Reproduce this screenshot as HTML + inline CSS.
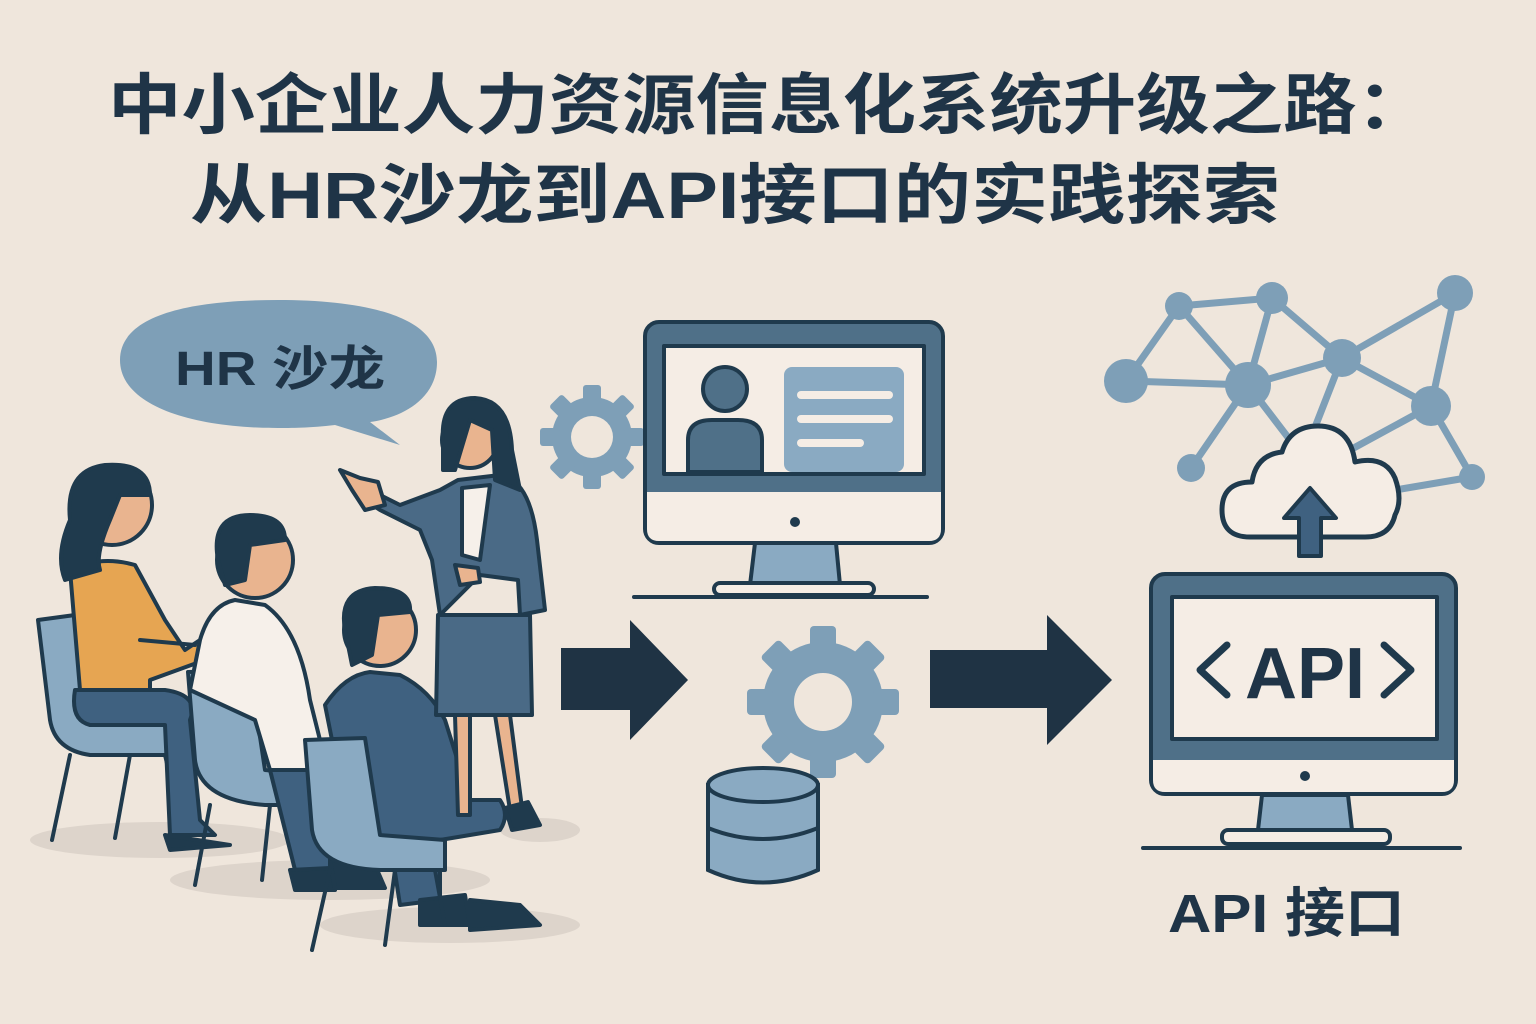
<!DOCTYPE html>
<html><head><meta charset="utf-8"><style>
html,body{margin:0;padding:0;background:#efe6dc;}
svg{display:block}
text{font-family:"Liberation Sans","Noto Sans CJK SC",sans-serif;font-weight:bold;fill:#1f3447}
</style></head><body>
<svg width="1536" height="1024" viewBox="0 0 1536 1024" xmlns="http://www.w3.org/2000/svg">
<rect width="1536" height="1024" fill="#efe6dc"/>
<text x="108" y="128" font-size="66" textLength="1322" lengthAdjust="spacingAndGlyphs">中小企业人力资源信息化系统升级之路：</text>
<text x="190" y="218" font-size="66" textLength="1090" lengthAdjust="spacingAndGlyphs">从HR沙龙到API接口的实践探索</text>

<!-- speech bubble -->
<path d="M120,360 C120,315 190,300 278,300 C370,300 437,318 437,362 C437,400 400,418 370,422 L400,445 L335,425 C310,428 290,428 278,428 C190,428 120,405 120,360Z" fill="#7e9fb7"/>
<text x="175" y="385" font-size="48" textLength="210" lengthAdjust="spacingAndGlyphs">HR 沙龙</text>

<!-- shadows -->
<ellipse cx="160" cy="840" rx="130" ry="18" fill="#ddd4cb"/>
<ellipse cx="330" cy="880" rx="160" ry="20" fill="#ddd4cb"/>
<ellipse cx="450" cy="925" rx="130" ry="18" fill="#ddd4cb"/>
<ellipse cx="540" cy="830" rx="40" ry="12" fill="#ddd4cb"/>

<g stroke="#1f3a4d" stroke-width="4" stroke-linejoin="round" stroke-linecap="round">
<!-- chair 1 -->
<path d="M38,620 L75,615 L90,720 L170,725 L170,755 L90,755 Q55,750 50,720Z" fill="#8aaac2"/>
<line x1="70" y1="755" x2="52" y2="840"/><line x1="130" y1="755" x2="115" y2="838"/><line x1="165" y1="755" x2="178" y2="810"/>
<!-- woman 1 -->
<path d="M70,570 Q100,555 135,565 L165,620 L185,650 L200,640 L205,660 L150,680 L150,690 L80,690 Z" fill="#e6a552"/>
<path d="M140,640 L195,645" />
<path d="M75,690 L165,690 Q200,695 190,720 L200,820 L215,835 L170,835 L165,725 L90,725 Q70,720 75,690Z" fill="#3f6180"/>
<path d="M165,835 L230,845 L170,850Z" fill="#1f3a4d"/>
<circle cx="112" cy="505" r="40" fill="#e9b48f"/>
<path d="M70,520 Q65,470 105,465 Q150,462 150,495 L120,495 L110,520 Q95,555 100,570 L65,580 Q55,555 70,520Z" fill="#1f3a4d"/>
<!-- chair 2 -->
<path d="M188,672 L250,670 L265,770 L320,775 L320,805 L265,805 Q200,800 195,760Z" fill="#8aaac2"/>
<line x1="210" y1="805" x2="195" y2="885"/><line x1="270" y1="805" x2="262" y2="880"/><line x1="305" y1="805" x2="318" y2="860"/>
<!-- man 1 -->
<path d="M200,640 Q210,605 235,600 L265,605 Q300,630 310,700 L320,740 L320,770 L270,770 L255,720 L190,690Z" fill="#f6f0ea"/>
<path d="M270,770 L330,770 L330,870 L295,870 Z" fill="#3f6180"/>
<path d="M290,870 L330,868 L335,890 L295,890Z" fill="#1f3a4d"/>
<path d="M330,860 L375,865 L385,888 L335,888Z" fill="#1f3a4d"/>
<circle cx="255" cy="560" r="38" fill="#e9b48f"/>
<path d="M218,560 Q210,515 250,515 Q285,515 285,540 L250,545 L245,580 L225,585Z" fill="#1f3a4d"/>
<!-- man 2 -->
<path d="M325,705 Q345,675 370,672 L400,675 Q430,690 445,720 L470,800 L500,800 Q510,815 500,830 L440,840 L440,900 L400,905 L390,840 L350,830Z" fill="#3f6180"/>
<path d="M420,900 L465,895 L470,925 L420,925Z" fill="#1f3a4d"/>
<path d="M470,900 L520,905 L540,925 L470,930Z" fill="#1f3a4d"/>
<circle cx="380" cy="630" r="36" fill="#e9b48f"/>
<path d="M345,630 Q338,590 375,588 Q412,588 410,612 L378,615 L372,655 L352,665Z" fill="#1f3a4d"/>
<!-- chair 3 -->
<path d="M305,740 L365,738 L380,835 L445,840 L445,870 L380,870 Q318,868 312,830Z" fill="#8aaac2"/>
<line x1="330" y1="870" x2="312" y2="950"/><line x1="395" y1="870" x2="385" y2="945"/><line x1="435" y1="870" x2="445" y2="925"/>
<!-- standing woman -->
<path d="M458,480 L500,475 Q530,480 537,540 L545,610 L520,615 L518,580 L480,575 L440,615 L432,560 L420,530 L380,510 L365,500 L370,490 L400,505 L440,490Z" fill="#4a6a86"/>
<path d="M462,488 L490,485 L480,560 L462,555Z" fill="#f6f0ea"/>
<path d="M438,615 L530,615 L532,715 L436,715Z" fill="#4a6a86"/>
<path d="M455,715 L470,715 L470,815 L458,815Z M495,715 L510,715 L522,808 L510,810Z" fill="#e9b48f"/>
<path d="M505,808 L528,802 L540,825 L512,830Z" fill="#1f3a4d"/>
<path d="M340,470 L360,478 L378,482 L385,505 L365,510 L352,490Z" fill="#e9b48f"/>
<path d="M455,565 L478,568 L480,582 L460,585Z" fill="#e9b48f"/>
<circle cx="470" cy="440" r="28" fill="#e9b48f"/>
<path d="M443,440 Q440,398 475,398 Q510,400 512,450 L520,490 L495,480 L492,430 L470,420 L455,470 L443,470Z" fill="#1f3a4d"/>
</g>

<!-- gears -->
<g fill="#7e9fb7">
<g transform="translate(592,437)">
<circle r="40"/>
<g id="t1"><rect x="-9" y="-52" width="18" height="20" rx="3"/></g>
<use href="#t1" transform="rotate(45)"/><use href="#t1" transform="rotate(90)"/><use href="#t1" transform="rotate(135)"/><use href="#t1" transform="rotate(180)"/><use href="#t1" transform="rotate(225)"/><use href="#t1" transform="rotate(270)"/><use href="#t1" transform="rotate(315)"/>
<circle r="21" fill="#efe6dc"/>
</g>
<g transform="translate(823,702)">
<circle r="60"/>
<g id="t2"><rect x="-13" y="-76" width="26" height="26" rx="4"/></g>
<use href="#t2" transform="rotate(45)"/><use href="#t2" transform="rotate(90)"/><use href="#t2" transform="rotate(135)"/><use href="#t2" transform="rotate(180)"/><use href="#t2" transform="rotate(225)"/><use href="#t2" transform="rotate(270)"/><use href="#t2" transform="rotate(315)"/>
<circle r="29" fill="#efe6dc"/>
</g>
</g>

<!-- monitor 1 -->
<g stroke="#1f3a4d" stroke-width="4" stroke-linejoin="round">
<path d="M755,543 L836,543 L840,585 L750,585Z" fill="#8aaac2"/>
<rect x="714" y="583" width="160" height="12" rx="6" fill="#f5ede5"/>
<rect x="645" y="322" width="298" height="221" rx="14" fill="#4f7088"/>
<path d="M647,492 L941,492 L941,529 Q941,541 929,541 L659,541 Q647,541 647,529Z" fill="#f5ede5" stroke="none"/>
<rect x="664" y="346" width="260" height="128" fill="#f5ede5"/>
<circle cx="725" cy="389" r="22" fill="#4f7088"/>
<path d="M688,472 L688,440 Q688,420 712,420 L738,420 Q762,420 762,440 L762,472Z" fill="#4f7088"/>
</g>
<line x1="634" y1="597" x2="927" y2="597" stroke="#1f3a4d" stroke-width="4" stroke-linecap="round"/>
<circle cx="795" cy="522" r="5" fill="#1f3a4d"/>
<rect x="784" y="367" width="120" height="105" rx="8" fill="#8aaac2"/>
<g stroke="#f5ede5" stroke-width="8" stroke-linecap="round"><line x1="801" y1="395" x2="889" y2="395"/><line x1="801" y1="419" x2="889" y2="419"/><line x1="801" y1="443" x2="860" y2="443"/></g>

<!-- database -->
<g stroke="#1f3a4d" stroke-width="4" fill="#8aaac2">
<path d="M708,785 L708,870 Q763,895 818,870 L818,785Z"/>
<path d="M708,828 Q763,850 818,828" fill="none"/>
<ellipse cx="763" cy="785" rx="55" ry="17"/>
</g>

<!-- arrows -->
<path d="M561,648 L630,648 L630,620 L688,680 L630,740 L630,710 L561,710Z" fill="#1f3344"/>
<path d="M930,650 L1047,650 L1047,615 L1112,680 L1047,745 L1047,708 L930,708Z" fill="#1f3344"/>

<!-- network -->
<g stroke="#7e9fb7" stroke-width="7">
<line x1="1179" y1="306" x2="1272" y2="298"/><line x1="1179" y1="306" x2="1126" y2="381"/><line x1="1179" y1="306" x2="1248" y2="385"/>
<line x1="1272" y1="298" x2="1248" y2="385"/><line x1="1272" y1="298" x2="1342" y2="358"/><line x1="1126" y1="381" x2="1248" y2="385"/>
<line x1="1248" y1="385" x2="1342" y2="358"/><line x1="1248" y1="385" x2="1191" y2="468"/><line x1="1248" y1="385" x2="1290" y2="440"/>
<line x1="1342" y1="358" x2="1455" y2="293"/><line x1="1342" y1="358" x2="1431" y2="406"/><line x1="1342" y1="358" x2="1310" y2="440"/>
<line x1="1455" y1="293" x2="1431" y2="406"/><line x1="1431" y1="406" x2="1350" y2="450"/><line x1="1431" y1="406" x2="1472" y2="477"/><line x1="1472" y1="477" x2="1395" y2="490"/>
</g>
<g fill="#7e9fb7">
<circle cx="1179" cy="306" r="14"/><circle cx="1272" cy="298" r="16"/><circle cx="1126" cy="381" r="22"/><circle cx="1248" cy="385" r="23"/>
<circle cx="1342" cy="358" r="19"/><circle cx="1455" cy="293" r="18"/><circle cx="1431" cy="406" r="20"/><circle cx="1191" cy="468" r="14"/><circle cx="1472" cy="477" r="13"/>
</g>
<!-- cloud -->
<path d="M1250,537 Q1222,537 1222,510 Q1222,482 1252,482 Q1256,455 1282,452 Q1290,426 1318,426 Q1350,426 1355,462 Q1385,455 1395,478 Q1403,500 1395,515 Q1390,537 1365,537Z" fill="#f5ede5" stroke="#1f3a4d" stroke-width="5" stroke-linejoin="round"/>
<path d="M1299,556 L1299,518 L1284,518 L1310,488 L1336,518 L1321,518 L1321,556Z" fill="#3f6180" stroke="#1f3a4d" stroke-width="4" stroke-linejoin="round"/>

<!-- monitor 2 -->
<g stroke="#1f3a4d" stroke-width="4" stroke-linejoin="round">
<path d="M1262,795 L1348,795 L1352,830 L1258,830Z" fill="#8aaac2"/>
<rect x="1222" y="830" width="168" height="14" rx="6" fill="#f5ede5"/>
<rect x="1151" y="574" width="305" height="220" rx="14" fill="#4f7088"/>
<path d="M1153,760 L1454,760 L1454,780 Q1454,792 1442,792 L1165,792 Q1153,792 1153,780Z" fill="#f5ede5" stroke="none"/>
<rect x="1172" y="597" width="265" height="142" fill="#f5ede5"/>
</g>
<line x1="1143" y1="848" x2="1460" y2="848" stroke="#1f3a4d" stroke-width="4" stroke-linecap="round"/>
<circle cx="1305" cy="776" r="5" fill="#1f3a4d"/>
<g stroke="#1f3a4d" stroke-width="7" fill="none" stroke-linecap="round" stroke-linejoin="round">
<polyline points="1227,645 1200,670 1227,695"/><polyline points="1384,645 1411,670 1384,695"/>
</g>
<text x="1305" y="698" font-size="72" text-anchor="middle">API</text>
<text x="1168" y="932" font-size="54" textLength="237" lengthAdjust="spacingAndGlyphs">API 接口</text>
</svg>
</body></html>
